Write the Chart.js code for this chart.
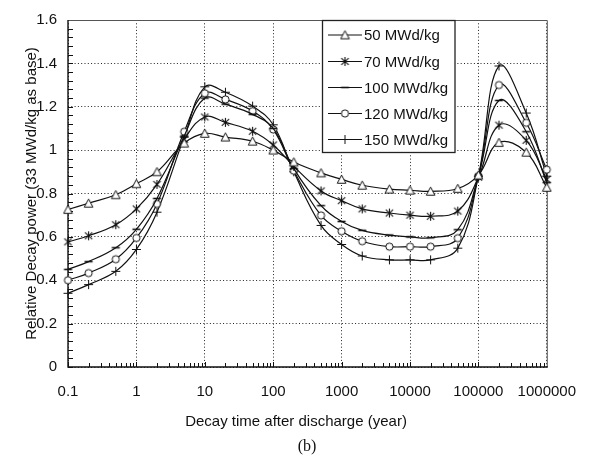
<!DOCTYPE html>
<html>
<head>
<meta charset="utf-8">
<script src="https://cdn.jsdelivr.net/npm/chart.js@4.4.1/dist/chart.umd.min.js"></script>
<style>
  html, body { margin: 0; padding: 0; background: #fff; }
  #wrap { width: 592px; height: 460px; position: relative; }
</style>
</head>
<body>
<div id="wrap"><canvas id="c" width="592" height="460"></canvas></div>
<script>
// ---- data ----
const decayTimes = [0.1, 0.2, 0.5, 1, 2, 5, 10, 20, 50, 100, 200, 500, 1000, 2000, 5000, 10000, 20000, 50000, 100000, 200000, 500000, 1000000];
const burnup50  = [0.726, 0.755, 0.794, 0.845, 0.900, 1.032, 1.077, 1.060, 1.041, 1.000, 0.945, 0.895, 0.865, 0.838, 0.820, 0.815, 0.810, 0.823, 0.885, 1.035, 0.990, 0.828];
const burnup70  = [0.577, 0.605, 0.656, 0.729, 0.842, 1.050, 1.153, 1.128, 1.087, 1.024, 0.925, 0.812, 0.767, 0.729, 0.710, 0.700, 0.695, 0.719, 0.875, 1.115, 1.045, 0.865];
const burnup100 = [0.450, 0.486, 0.550, 0.635, 0.777, 1.065, 1.240, 1.212, 1.165, 1.100, 0.915, 0.744, 0.671, 0.630, 0.608, 0.600, 0.596, 0.633, 0.880, 1.229, 1.085, 0.850];
const burnup120 = [0.400, 0.433, 0.497, 0.595, 0.752, 1.085, 1.262, 1.234, 1.180, 1.095, 0.905, 0.699, 0.626, 0.580, 0.555, 0.555, 0.555, 0.594, 0.880, 1.300, 1.126, 0.910];
const burnup150 = [0.340, 0.380, 0.441, 0.542, 0.714, 1.060, 1.292, 1.267, 1.203, 1.117, 0.900, 0.653, 0.565, 0.512, 0.494, 0.494, 0.494, 0.548, 0.880, 1.388, 1.171, 0.880];
const seriesLabels = ['50 MWd/kg', '70 MWd/kg', '100 MWd/kg', '120 MWd/kg', '150 MWd/kg'];
const xTickLabels = ['0.1', '1', '10', '100', '1000', '10000', '100000', '1000000'];
const yTickLabels = ['0', '0.2', '0.4', '0.6', '0.8', '1', '1.2', '1.4', '1.6'];
const xTitle = 'Decay time after discharge (year)';
const yTitle = 'Relative Decay power (33 MWd/kg as base)';
const panelLabel = '(b)';

// ---- markers ----
function makeMarker(type) {
  const c = document.createElement('canvas');
  c.width = 11; c.height = 11;
  const g = c.getContext('2d');
  g.strokeStyle = '#111';
  g.fillStyle = '#fff';
  g.lineWidth = 1;
  g.beginPath();
  if (type === 'triangle') {
    g.moveTo(5.5, 1.2); g.lineTo(9.8, 9.3); g.lineTo(1.2, 9.3); g.closePath();
    g.fill(); g.stroke();
  } else if (type === 'asterisk') {
    g.lineWidth = 1.1;
    g.moveTo(1.8, 2.2); g.lineTo(9.2, 8.8);
    g.moveTo(9.2, 2.2); g.lineTo(1.8, 8.8);
    g.moveTo(5.5, 1); g.lineTo(5.5, 10);
    g.stroke();
  } else if (type === 'dash') {
    g.lineWidth = 1.6;
    g.moveTo(1.5, 5.5); g.lineTo(9.5, 5.5);
    g.stroke();
  } else if (type === 'circle') {
    g.arc(5.5, 5.5, 3.6, 0, Math.PI * 2);
    g.fill(); g.stroke();
  } else if (type === 'plus') {
    g.moveTo(5.5, 1); g.lineTo(5.5, 10);
    g.moveTo(1, 5.5); g.lineTo(10, 5.5);
    g.stroke();
  }
  return c;
}
const markers = ['triangle', 'asterisk', 'dash', 'circle', 'plus'].map(makeMarker);
const seriesValues = [burnup50, burnup70, burnup100, burnup120, burnup150];

const datasets = seriesValues.map((vals, i) => ({
  label: seriesLabels[i],
  data: decayTimes.map((t, j) => ({ x: t, y: vals[j] })),
  borderColor: '#111',
  borderWidth: 1.2,
  pointStyle: markers[i],
  pointRadius: 5,
  pointHoverRadius: 5,
  tension: 0.4,
  clip: false,
  fill: false
}));

function isDecade(v) {
  const l = Math.log10(v);
  return Math.abs(l - Math.round(l)) < 1e-6;
}

const decor = {
  id: 'decor',
  beforeDatasetsDraw(chart) {
    const { ctx, chartArea: a, scales: { x, y } } = chart;
    ctx.save();
    ctx.strokeStyle = '#111';
    ctx.lineWidth = 1;
    // minor ticks x (inside)
    for (let e = -1; e <= 5; e++) {
      for (let k = 1; k <= 9; k++) {
        const v = k * Math.pow(10, e);
        if (v > 1e6) continue;
        const px = Math.round(x.getPixelForValue(v)) + 0.5;
        ctx.beginPath();
        ctx.moveTo(px, a.bottom);
        ctx.lineTo(px, a.bottom - (k === 1 ? 5 : 4));
        ctx.stroke();
      }
    }
    // minor ticks y (inside)
    for (let i = 0; i <= 40; i++) {
      const py = Math.round(y.getPixelForValue(i * 0.04)) + 0.5;
      ctx.beginPath();
      ctx.moveTo(a.left, py);
      ctx.lineTo(a.left + 5, py);
      ctx.stroke();
    }
    // frame
    ctx.strokeStyle = '#555';
    ctx.lineWidth = 1;
    ctx.beginPath();
    ctx.moveTo(a.left, a.top + 0.5); ctx.lineTo(a.right + 0.5, a.top + 0.5); ctx.lineTo(a.right + 0.5, a.bottom);
    ctx.stroke();
    ctx.strokeStyle = '#111';
    ctx.lineWidth = 1.4;
    ctx.beginPath();
    ctx.moveTo(a.left, a.top); ctx.lineTo(a.left, a.bottom); ctx.lineTo(a.right + 1, a.bottom);
    ctx.stroke();
    ctx.restore();
  },
  afterDatasetsDraw(chart) {
    const { ctx } = chart;
    ctx.save();
    // legend box
    const bx = 322.5, by = 20.5, bw = 132.5, bh = 132;
    ctx.fillStyle = '#fff';
    ctx.fillRect(bx, by, bw, bh);
    ctx.strokeStyle = '#222';
    ctx.lineWidth = 1.3;
    ctx.strokeRect(bx, by, bw, bh);
    const rows = [35, 61.5, 87.5, 113.5, 139.5];
    ctx.font = '15px "Liberation Sans", Arial, sans-serif';
    ctx.textBaseline = 'middle';
    ctx.textAlign = 'left';
    chart.data.datasets.forEach((ds, i) => {
      const yy = rows[i];
      ctx.strokeStyle = '#111';
      ctx.lineWidth = 1.2;
      ctx.beginPath();
      ctx.moveTo(328, yy); ctx.lineTo(362, yy);
      ctx.stroke();
      ctx.drawImage(markers[i], 345 - 5.5, yy - 5.5);
      ctx.fillStyle = '#111';
      ctx.fillText(ds.label, 364, yy + 1);
    });
    ctx.restore();
  },
  afterDraw(chart) {
    const { ctx } = chart;
    ctx.save();
    ctx.fillStyle = '#111';
    ctx.textAlign = 'center';
    ctx.textBaseline = 'middle';
    ctx.font = '15px "Liberation Sans", Arial, sans-serif';
    ctx.fillText(chart.options.scales.x.title.text, 296, 422);
    ctx.font = '16px "Liberation Serif", "Times New Roman", serif';
    ctx.fillText(panelLabel, 307, 447);
    ctx.restore();
  }
};

new Chart(document.getElementById('c'), {
  type: 'line',
  data: { datasets },
  plugins: [decor],
  options: {
    responsive: false,
    animation: false,
    events: [],
    layout: { padding: { left: 0, top: 15, right: 42, bottom: 0 } },
    plugins: { legend: { display: false }, tooltip: { enabled: false } },
    scales: {
      x: {
        type: 'logarithmic',
        min: 0.1,
        max: 1000000,
        afterFit(scale) { scale.height = 93; },
        grid: {
          drawTicks: false,
          color: (c) => (c.tick && isDecade(c.tick.value) ? '#222' : 'transparent'),
          lineWidth: 1
        },
        border: { display: false, dash: [1, 2.3] },
        ticks: {
          autoSkip: false,
          maxRotation: 0,
          padding: 16,
          color: '#111',
          font: { family: '"Liberation Sans", Arial, sans-serif', size: 15 },
          callback: (v) => {
            if (!isDecade(v)) return '';
            const e = Math.round(Math.log10(v));
            return xTickLabels[e + 1];
          }
        },
        title: { display: false, text: xTitle }
      },
      y: {
        min: 0,
        max: 1.6,
        afterFit(scale) { scale.width = 68; },
        grid: { drawTicks: false, color: '#222', lineWidth: 1 },
        border: { display: false, dash: [1, 2.3] },
        ticks: {
          stepSize: 0.2,
          padding: 11,
          color: '#111',
          font: { family: '"Liberation Sans", Arial, sans-serif', size: 15 },
          callback: (v, i) => yTickLabels[i]
        },
        title: {
          display: true,
          text: yTitle,
          color: '#111',
          padding: { top: 23, bottom: 0 },
          font: { family: '"Liberation Sans", Arial, sans-serif', size: 15 }
        }
      }
    }
  }
});
</script>
</body>
</html>
